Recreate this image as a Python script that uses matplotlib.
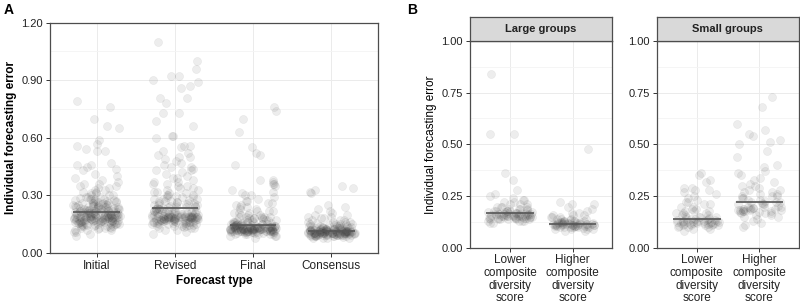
import numpy as np
import pandas as pd
import matplotlib
matplotlib.use("Agg")
import matplotlib.pyplot as plt
import seaborn as sns

plt.rcParams['font.family'] = ['Liberation Sans', 'DejaVu Sans']

# ---- panel A data (individual errors) ----
forecast_types = ['Initial', 'Revised', 'Final', 'Consensus']

initial_err = [
    0.79, 0.76, 0.70, 0.66, 0.65, 0.59, 0.57, 0.56, 0.54, 0.53, 0.53, 0.47, 0.46, 0.46, 0.45, 0.44, 0.43, 0.41, 0.40, 0.39,
    0.38, 0.37, 0.36, 0.36, 0.35, 0.35, 0.34, 0.34, 0.33, 0.33, 0.32, 0.32, 0.31, 0.31, 0.30, 0.30, 0.30, 0.29, 0.29, 0.29,
    0.28, 0.28, 0.28, 0.28, 0.27, 0.27, 0.27, 0.27, 0.26, 0.26, 0.26, 0.26, 0.26, 0.25, 0.25, 0.25, 0.25, 0.25, 0.24, 0.24,
    0.24, 0.24, 0.24, 0.24, 0.23, 0.23, 0.23, 0.23, 0.23, 0.23, 0.22, 0.22, 0.22, 0.22, 0.22, 0.22, 0.22, 0.21, 0.21, 0.21,
    0.21, 0.21, 0.21, 0.21, 0.20, 0.20, 0.20, 0.20, 0.20, 0.20, 0.20, 0.20, 0.19, 0.19, 0.19, 0.19, 0.19, 0.19, 0.19, 0.19,
    0.18, 0.18, 0.18, 0.18, 0.18, 0.18, 0.18, 0.18, 0.18, 0.17, 0.17, 0.17, 0.17, 0.17, 0.17, 0.17, 0.17, 0.17, 0.16, 0.16,
    0.16, 0.16, 0.16, 0.16, 0.16, 0.16, 0.15, 0.15, 0.15, 0.15, 0.15, 0.15, 0.15, 0.14, 0.14, 0.14, 0.14, 0.14, 0.13, 0.13,
    0.13, 0.13, 0.12, 0.12, 0.12, 0.11, 0.11, 0.10, 0.09,
    0.285, 0.275, 0.265, 0.255, 0.245, 0.235, 0.225, 0.215, 0.205, 0.195, 0.185, 0.175, 0.165, 0.155, 0.145, 0.135,
    0.275, 0.255, 0.235, 0.215, 0.195, 0.175, 0.155, 0.265, 0.245, 0.225, 0.205, 0.185, 0.165, 0.145, 0.125,
    0.245, 0.225, 0.205, 0.185, 0.165, 0.195, 0.175, 0.215, 0.185, 0.165, 0.155, 0.175, 0.195, 0.205, 0.225,
    0.235, 0.215, 0.195, 0.175, 0.165, 0.185, 0.205, 0.225, 0.185, 0.165, 0.145, 0.175, 0.195, 0.215]
revised_err = [
    1.10, 1.00, 0.96, 0.92, 0.92, 0.90, 0.89, 0.87, 0.86, 0.81, 0.81, 0.78, 0.73, 0.73, 0.69, 0.66, 0.61, 0.61, 0.60, 0.56,
    0.56, 0.55, 0.53, 0.52, 0.51, 0.50, 0.50, 0.49, 0.48, 0.47, 0.46, 0.45, 0.45, 0.44, 0.43, 0.43, 0.42, 0.41, 0.40, 0.39,
    0.39, 0.38, 0.37, 0.37, 0.36, 0.36, 0.35, 0.35, 0.34, 0.34, 0.33, 0.33, 0.32, 0.32, 0.31, 0.31, 0.30, 0.30, 0.30, 0.29,
    0.29, 0.29, 0.28, 0.28, 0.28, 0.27, 0.27, 0.27, 0.26, 0.26, 0.26, 0.25, 0.25, 0.25, 0.25, 0.24, 0.24, 0.24, 0.24, 0.23,
    0.23, 0.23, 0.23, 0.22, 0.22, 0.22, 0.22, 0.22, 0.21, 0.21, 0.21, 0.21, 0.21, 0.20, 0.20, 0.20, 0.20, 0.20, 0.20, 0.19,
    0.19, 0.19, 0.19, 0.19, 0.19, 0.19, 0.18, 0.18, 0.18, 0.18, 0.18, 0.18, 0.18, 0.18, 0.17, 0.17, 0.17, 0.17, 0.17, 0.17,
    0.17, 0.16, 0.16, 0.16, 0.16, 0.16, 0.16, 0.15, 0.15, 0.15, 0.15, 0.15, 0.14, 0.14, 0.14, 0.14, 0.13, 0.13, 0.13, 0.12,
    0.12, 0.11, 0.10,
    0.295, 0.275, 0.255, 0.235, 0.215, 0.195, 0.185, 0.175, 0.165, 0.155, 0.145, 0.135, 0.185, 0.175, 0.165, 0.195,
    0.265, 0.245, 0.225, 0.205, 0.195, 0.185, 0.175, 0.165, 0.155, 0.185, 0.175, 0.195, 0.205, 0.215, 0.225,
    0.185, 0.175, 0.165, 0.195, 0.185, 0.175, 0.205, 0.165, 0.155, 0.185, 0.195, 0.175, 0.245, 0.265, 0.235,
    0.185, 0.175, 0.195, 0.165, 0.185, 0.205, 0.175, 0.155, 0.145, 0.215, 0.225, 0.195, 0.185, 0.175]
final_err = [
    0.76, 0.74, 0.70, 0.63, 0.55, 0.52, 0.51, 0.46, 0.38, 0.38, 0.37, 0.36, 0.36, 0.35, 0.33, 0.32, 0.31, 0.30, 0.30, 0.29,
    0.28, 0.27, 0.27, 0.26, 0.26, 0.25, 0.25, 0.24, 0.24, 0.23, 0.23, 0.22, 0.22, 0.22, 0.21, 0.21, 0.21, 0.20, 0.20, 0.20,
    0.19, 0.19, 0.19, 0.19, 0.18, 0.18, 0.18, 0.18, 0.17, 0.17, 0.17, 0.17, 0.17, 0.16, 0.16, 0.16, 0.16, 0.16, 0.16, 0.15,
    0.15, 0.15, 0.15, 0.15, 0.15, 0.15, 0.14, 0.14, 0.14, 0.14, 0.14, 0.14, 0.14, 0.14, 0.13, 0.13, 0.13, 0.13, 0.13, 0.13,
    0.13, 0.13, 0.13, 0.13, 0.12, 0.12, 0.12, 0.12, 0.12, 0.12, 0.12, 0.12, 0.12, 0.12, 0.12, 0.11, 0.11, 0.11, 0.11, 0.11,
    0.11, 0.11, 0.11, 0.11, 0.10, 0.10, 0.10, 0.10, 0.10, 0.10, 0.09, 0.09, 0.09, 0.08, 0.135, 0.125, 0.115, 0.125, 0.135,
    0.125, 0.115, 0.105, 0.145, 0.125, 0.115, 0.135, 0.125, 0.115, 0.105, 0.125, 0.135, 0.115, 0.125, 0.115,
    0.125, 0.135, 0.115, 0.125, 0.145, 0.135, 0.125, 0.115, 0.125, 0.135, 0.145, 0.155, 0.125, 0.115, 0.135, 0.125,
    0.115, 0.125, 0.135, 0.125, 0.115, 0.105, 0.125, 0.135, 0.145, 0.125, 0.115, 0.125, 0.135, 0.125, 0.165, 0.175,
    0.185, 0.155, 0.145, 0.125, 0.135, 0.115, 0.125, 0.135, 0.125, 0.115, 0.125, 0.135, 0.145, 0.125, 0.115, 0.125]
consensus_err = [
    0.35, 0.34, 0.33, 0.32, 0.31, 0.25, 0.24, 0.23, 0.22, 0.21, 0.20, 0.20, 0.19, 0.19, 0.18, 0.18, 0.17, 0.17, 0.17, 0.16,
    0.16, 0.16, 0.16, 0.15, 0.15, 0.15, 0.15, 0.15, 0.14, 0.14, 0.14, 0.14, 0.14, 0.14, 0.13, 0.13, 0.13, 0.13, 0.13, 0.13,
    0.13, 0.12, 0.12, 0.12, 0.12, 0.12, 0.12, 0.12, 0.12, 0.11, 0.11, 0.11, 0.11, 0.11, 0.11, 0.11, 0.11, 0.11, 0.11, 0.10,
    0.10, 0.10, 0.10, 0.10, 0.10, 0.10, 0.10, 0.10, 0.10, 0.09, 0.09, 0.09, 0.09, 0.09, 0.09, 0.09, 0.08, 0.08, 0.08, 0.08,
    0.125, 0.115, 0.105, 0.095, 0.115, 0.105, 0.125, 0.095, 0.105, 0.115, 0.135, 0.105, 0.095, 0.115, 0.105, 0.125,
    0.105, 0.095, 0.115, 0.105, 0.085, 0.095, 0.105, 0.115, 0.125, 0.105, 0.095, 0.115, 0.105, 0.145,
    0.105, 0.115, 0.095, 0.105, 0.125, 0.115, 0.105, 0.095, 0.115, 0.105, 0.125, 0.135, 0.115, 0.105, 0.095, 0.115,
    0.105, 0.115, 0.125, 0.105, 0.095, 0.115, 0.105, 0.125, 0.115, 0.105, 0.095, 0.105, 0.115, 0.125, 0.155, 0.145,
    0.105, 0.115, 0.095, 0.105, 0.125, 0.115, 0.105, 0.135, 0.115, 0.105, 0.125, 0.095, 0.115, 0.105]
mean_A = [0.215, 0.232, 0.145, 0.113]

# ---- panel B data ----
div_labels = ['Lower\ncomposite\ndiversity\nscore', 'Higher\ncomposite\ndiversity\nscore']
large_lower = [0.84, 0.55, 0.55, 0.36, 0.33, 0.28, 0.26, 0.25, 0.24, 0.23, 0.23, 0.22, 0.22, 0.21, 0.21, 0.21, 0.20, 0.20,
               0.20, 0.20, 0.19, 0.19, 0.19, 0.19, 0.18, 0.18, 0.18, 0.18, 0.18, 0.17, 0.17, 0.17, 0.17, 0.17, 0.17, 0.16,
               0.16, 0.16, 0.16, 0.16, 0.16, 0.16, 0.15, 0.15, 0.15, 0.15, 0.15, 0.15, 0.15, 0.14, 0.14, 0.14, 0.14, 0.14,
               0.14, 0.13, 0.13, 0.13, 0.13, 0.12, 0.12, 0.155, 0.145, 0.165, 0.155, 0.145, 0.175, 0.155, 0.165, 0.145,
               0.155, 0.145, 0.165, 0.155, 0.145, 0.175, 0.185, 0.155, 0.165, 0.145, 0.155, 0.165, 0.175, 0.155]
large_higher = [0.48, 0.22, 0.21, 0.21, 0.20, 0.19, 0.18, 0.17, 0.17, 0.16, 0.16, 0.16, 0.15, 0.15, 0.15, 0.14, 0.14, 0.14,
                0.14, 0.13, 0.13, 0.13, 0.13, 0.13, 0.12, 0.12, 0.12, 0.12, 0.12, 0.12, 0.12, 0.11, 0.11, 0.11, 0.11, 0.11,
                0.11, 0.11, 0.11, 0.10, 0.10, 0.10, 0.10, 0.10, 0.10, 0.10, 0.09, 0.09, 0.09, 0.09, 0.08, 0.08, 0.115,
                0.105, 0.125, 0.115, 0.105, 0.115, 0.125, 0.105, 0.115, 0.105, 0.115, 0.125, 0.115, 0.105, 0.095,
                0.115, 0.125, 0.105, 0.115, 0.135, 0.115, 0.105, 0.125, 0.115]
small_lower = [0.36, 0.35, 0.33, 0.32, 0.29, 0.29, 0.28, 0.28, 0.27, 0.26, 0.25, 0.24, 0.23, 0.22, 0.22, 0.21, 0.21, 0.20,
               0.20, 0.19, 0.19, 0.18, 0.18, 0.18, 0.17, 0.17, 0.17, 0.16, 0.16, 0.16, 0.15, 0.15, 0.15, 0.15, 0.14, 0.14,
               0.14, 0.14, 0.13, 0.13, 0.13, 0.13, 0.13, 0.12, 0.12, 0.12, 0.12, 0.12, 0.12, 0.11, 0.11, 0.11, 0.11, 0.11,
               0.10, 0.10, 0.10, 0.09, 0.09, 0.08, 0.125, 0.115, 0.135, 0.125, 0.115, 0.125, 0.135, 0.115, 0.125,
               0.145, 0.125, 0.115, 0.135, 0.125, 0.105]
small_higher = [0.73, 0.68, 0.60, 0.57, 0.55, 0.54, 0.52, 0.51, 0.50, 0.47, 0.44, 0.40, 0.39, 0.37, 0.36, 0.35, 0.34, 0.33,
                0.32, 0.31, 0.30, 0.30, 0.29, 0.28, 0.28, 0.27, 0.27, 0.26, 0.26, 0.25, 0.25, 0.25, 0.24, 0.24, 0.23, 0.23,
                0.22, 0.22, 0.22, 0.21, 0.21, 0.21, 0.20, 0.20, 0.20, 0.19, 0.19, 0.19, 0.19, 0.18, 0.18, 0.18, 0.18, 0.17,
                0.17, 0.17, 0.16, 0.16, 0.15, 0.15, 0.14, 0.13, 0.12, 0.11, 0.10,
                0.185, 0.195, 0.175, 0.205, 0.185, 0.195, 0.215, 0.175, 0.185, 0.225, 0.195, 0.185]
mean_large = [0.170, 0.115]
mean_small = [0.138, 0.222]

pt_color = '#404040'
frame_color = '#4d4d4d'
grid_color = '#ebebeb'


def style_axes(ax, yticks, ylim, fmt='{:.2f}'):
    ax.set_ylim(*ylim)
    ax.set_yticks(yticks)
    ax.set_yticklabels([fmt.format(v) for v in yticks])
    minor = [(a + b) / 2 for a, b in zip(yticks[:-1], yticks[1:])]
    ax.set_yticks(minor, minor=True)
    ax.tick_params(axis='y', which='minor', length=0)
    ax.grid(True, which='major', color=grid_color, lw=0.7)
    ax.grid(True, which='minor', axis='y', color='#f4f4f4', lw=0.6)
    ax.set_axisbelow(True)
    for s in ax.spines.values():
        s.set_color(frame_color)
        s.set_linewidth(0.9)
    ax.tick_params(axis='both', which='major', labelsize=8, colors='#333333',
                   length=3, width=0.7, pad=2, labelcolor='#222222')


def strip(ax, groups, labels, jitter):
    df = pd.DataFrame({
        'cat': np.concatenate([[lab] * len(g) for lab, g in zip(labels, groups)]),
        'err': np.concatenate(groups),
    })
    sns.stripplot(data=df, x='cat', y='err', order=labels, ax=ax, color=pt_color,
                  alpha=0.09, size=5.8, jitter=jitter, linewidth=0.4, edgecolor=pt_color)


np.random.seed(7)
fig = plt.figure(figsize=(8, 3.04), dpi=100)

# ---- panel A ----
axA = fig.add_axes([0.0625, 0.1678, 0.41, 0.7575])
strip(axA, [initial_err, revised_err, final_err, consensus_err], forecast_types, 0.3)
for i, m in enumerate(mean_A):
    axA.hlines(m, i - 0.3, i + 0.3, color='#555555', lw=1.2, zorder=5)
style_axes(axA, [0.0, 0.3, 0.6, 0.9, 1.2], (0, 1.2))
axA.set_xlim(-0.6, 3.6)
axA.set_xlabel('Forecast type', fontsize=8.5, fontweight='bold', labelpad=2)
axA.set_ylabel('Individual forecasting error', fontsize=8.5, fontweight='bold', labelpad=3)
axA.tick_params(axis='x', labelsize=8.5)
fig.text(0.004, 0.99, 'A', fontsize=10, fontweight='bold', va='top')
fig.text(0.509, 0.99, 'B', fontsize=10, fontweight='bold', va='top')

# ---- panel B facets ----
facets = [('Large groups', [large_lower, large_higher], mean_large, 0.5875),
          ('Small groups', [small_lower, small_higher], mean_small, 0.8209)]
for k, (title, groups, means, left) in enumerate(facets):
    ax = fig.add_axes([left, 0.1842, 0.1775, 0.6818])
    strip(ax, groups, div_labels, 0.36)
    for i, m in enumerate(means):
        ax.hlines(m, i - 0.38, i + 0.38, color='#555555', lw=1.2, zorder=5)
    style_axes(ax, [0.0, 0.25, 0.5, 0.75, 1.0], (0, 1.0))
    ax.set_xlim(-0.64, 1.63)
    ax.set_xlabel('')
    ax.tick_params(axis='x', labelsize=8.5, pad=1.5)
    for t in ax.get_xticklabels():
        t.set_linespacing(1.08)
    if k == 0:
        ax.set_ylabel('Individual forecasting error', fontsize=8.5, labelpad=3)
    else:
        ax.set_ylabel('')
    # facet strip
    sa = fig.add_axes([left, 0.866, 0.1775, 0.078])
    sa.set_facecolor('#d9d9d9')
    sa.set_xticks([])
    sa.set_yticks([])
    for s in sa.spines.values():
        s.set_color(frame_color)
        s.set_linewidth(0.9)
    sa.text(0.5, 0.5, title, ha='center', va='center', fontsize=8, fontweight='bold',
            color='#222222', transform=sa.transAxes)

fig.savefig('out.png', dpi=100)
